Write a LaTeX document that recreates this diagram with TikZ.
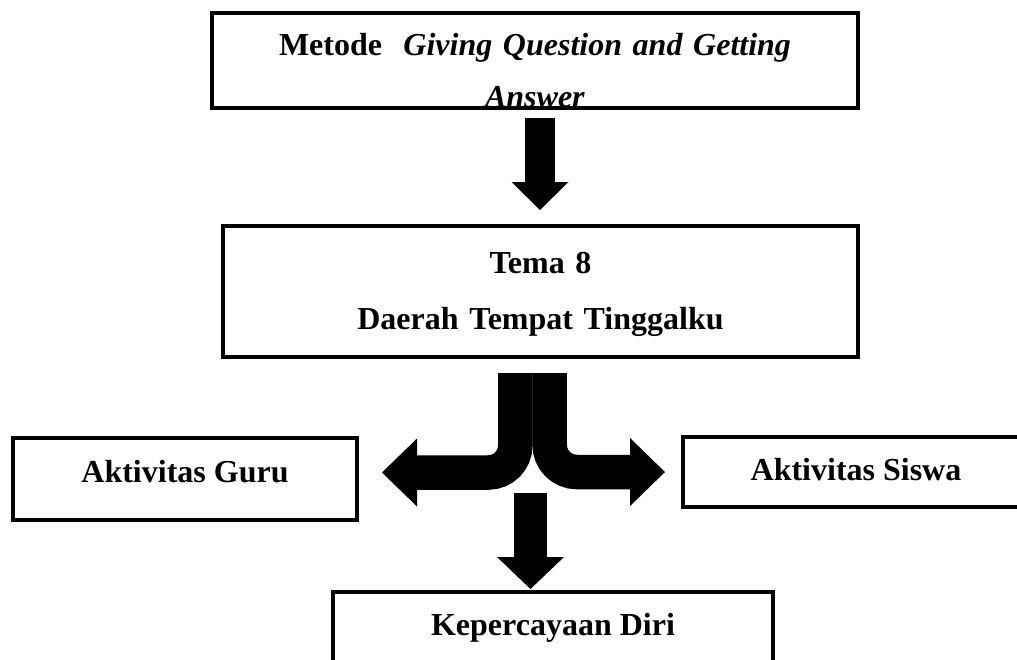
\documentclass[tikz,border=0pt]{standalone}
\usepackage{fontspec}
\setmainfont{Liberation Serif}
\usetikzlibrary{positioning,arrows.meta}
\tikzstyle{block} = [draw, line width=2pt, fill=white, rectangle, inner sep=0pt,
    outer sep=0pt, font=\fontsize{16}{24}\selectfont\bfseries, align=center]
\tikzset{fat/.style n args={3}{line width=#1,
    -{Triangle[length=#2 0 0, width=#3 0 0, line width=0pt 0 0]}}}
\begin{document}
\begin{tikzpicture}[x=0.5pt, y=-0.5pt]
	  \useasboundingbox (0,0) rectangle (1017,659);
	  \clip (0,0) rectangle (1017,659);
	  \node [block, minimum width=323pt, minimum height=47.5pt, text width=300pt,
	    text height=12pt, text depth=17.5pt] (method) at (535,60.5)
	    {Metode\ \ \textit{Giving Question and Getting}\\[2pt] \textit{Answer}};
	  \draw [line width=2pt] (method.south west) -- (method.south east);
	  \node [block, below=59pt of method, xshift=2.75pt, minimum width=317.5pt,
	    minimum height=65.5pt, text width=300pt, text height=12pt, text depth=30.5pt] (tema)
	    {Tema 8\\[4pt] Daerah Tempat Tinggalku};
	  \node [block, minimum width=172pt, minimum height=41pt,
	    text height=12pt, text depth=9pt] (guru) at (185,479) {Aktivitas Guru};
	  \node [block, minimum width=173pt, minimum height=35pt,
	    text height=12pt, text depth=4pt] (siswa) at (856,472) {Aktivitas Siswa};
	  \node [block, below=117.5pt of tema, xshift=6.25pt, minimum width=220pt,
	    minimum height=50pt, text height=12pt, text depth=19pt] (trust) {Kepercayaan Diri};
	  \coordinate (split) at ([xshift=-5pt, yshift=-68pt]tema.south);
	  \draw [fat={15pt}{14pt}{28.5pt}] ([xshift=2.5pt, yshift=-5pt]method.south)
	    -- ([xshift=-0.25pt, yshift=8pt]tema.north);
	  \draw [fat={17.25pt}{17.5pt}{34pt}, rounded corners=13.5pt]
	    ([xshift=-12.6pt, yshift=-8pt]tema.south) |- ([xshift=12.5pt, yshift=3.25pt]guru.east);
	  \draw [fat={17.25pt}{17.5pt}{34pt}, rounded corners=13.5pt]
	    ([xshift=4.6pt, yshift=-8pt]tema.south) |- ([xshift=-9pt]siswa.west);
	  \draw [fat={16.5pt}{16pt}{33.5pt}] (split) -- ([xshift=-11.25pt, yshift=1.5pt]trust.north);
	\end{tikzpicture}
\end{document}
